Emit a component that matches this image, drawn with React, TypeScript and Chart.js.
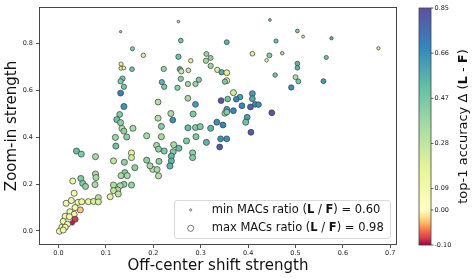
import React, { useEffect, useRef } from "react";
import { Chart, registerables } from "chart.js";
Chart.register(...registerables);

// Off-center shift strength (x)
const SHIFT = [
  0.131, 0.253, 0.446, 0.504, 0.516, 0.576, 0.675, 0.156, 0.179, 0.258,
  0.355, 0.459, 0.253, 0.312, 0.321, 0.311, 0.279, 0.409, 0.472, 0.445,
  0.439, 0.565, 0.132, 0.132, 0.138, 0.155, 0.222, 0.256, 0.259, 0.274,
  0.321, 0.335, 0.344, 0.355, 0.504, 0.504, 0.457, 0.500, 0.506, 0.559,
  0.135, 0.131, 0.138, 0.218, 0.223, 0.258, 0.251, 0.273, 0.296, 0.289,
  0.355, 0.351, 0.131, 0.491, 0.369, 0.409, 0.409, 0.383, 0.357, 0.375,
  0.343, 0.273, 0.210, 0.138, 0.289, 0.415, 0.422, 0.387, 0.405, 0.355,
  0.369, 0.351, 0.355, 0.450, 0.237, 0.284, 0.129, 0.123, 0.131, 0.210,
  0.241, 0.398, 0.395, 0.334, 0.347, 0.217, 0.157, 0.134, 0.138, 0.273,
  0.289, 0.299, 0.321, 0.406, 0.144, 0.120, 0.186, 0.217, 0.290, 0.342,
  0.355, 0.270, 0.312, 0.340, 0.121, 0.154, 0.154, 0.207, 0.211, 0.223,
  0.243, 0.242, 0.254, 0.283, 0.283, 0.238, 0.238, 0.235, 0.212, 0.199,
  0.208, 0.211, 0.193, 0.186, 0.161, 0.038, 0.048, 0.078, 0.116, 0.139,
  0.140, 0.132, 0.145, 0.078, 0.079, 0.047, 0.051, 0.057, 0.077, 0.030,
  0.033, 0.016, 0.027, 0.041, 0.049, 0.063, 0.074, 0.084, 0.084, 0.116,
  0.138, 0.130, 0.154, 0.125, 0.116, 0.109, 0.126, 0.046, 0.035, 0.024,
  0.033, 0.014, 0.023, 0.035, 0.029, 0.010, 0.019, 0.007, 0.014, 0.002,
  0.010,
];

// Zoom-in strength (y)
const ZOOM = [
  0.850, 0.893, 0.900, 0.853, 0.829, 0.822, 0.779, 0.777, 0.749, 0.812,
  0.805, 0.810, 0.743, 0.755, 0.738, 0.726, 0.726, 0.756, 0.758, 0.749,
  0.728, 0.740, 0.712, 0.694, 0.695, 0.690, 0.691, 0.690, 0.681, 0.685,
  0.704, 0.687, 0.677, 0.675, 0.714, 0.696, 0.665, 0.656, 0.638, 0.639,
  0.650, 0.638, 0.615, 0.635, 0.615, 0.649, 0.611, 0.627, 0.645, 0.627,
  0.641, 0.637, 0.588, 0.612, 0.590, 0.586, 0.564, 0.571, 0.563, 0.562,
  0.556, 0.566, 0.550, 0.531, 0.540, 0.540, 0.539, 0.534, 0.529, 0.519,
  0.513, 0.502, 0.507, 0.504, 0.501, 0.499, 0.497, 0.475, 0.462, 0.481,
  0.473, 0.485, 0.464, 0.464, 0.452, 0.446, 0.438, 0.437, 0.426, 0.440,
  0.441, 0.445, 0.438, 0.421, 0.401, 0.399, 0.406, 0.402, 0.402, 0.393,
  0.393, 0.384, 0.378, 0.358, 0.362, 0.333, 0.313, 0.365, 0.349, 0.341,
  0.368, 0.338, 0.353, 0.333, 0.313, 0.319, 0.299, 0.277, 0.297, 0.263,
  0.262, 0.235, 0.278, 0.302, 0.270, 0.341, 0.328, 0.317, 0.299, 0.293,
  0.249, 0.236, 0.236, 0.243, 0.228, 0.224, 0.203, 0.190, 0.198, 0.213,
  0.161, 0.118, 0.130, 0.122, 0.125, 0.125, 0.126, 0.142, 0.124, 0.196,
  0.199, 0.193, 0.196, 0.175, 0.172, 0.146, 0.158, 0.090, 0.100, 0.082,
  0.071, 0.063, 0.061, 0.050, 0.035, 0.041, 0.029, 0.016, 0.016, -0.001,
  0.004,
];

// top-1 accuracy delta (L - F), drives colour
const DELTA = [
  0.40, 0.35, 0.42, 0.45, 0.22, 0.55, 0.22, 0.45, 0.20, 0.48,
  0.55, 0.50, 0.50, 0.38, 0.40, 0.35, 0.20, 0.20, 0.32, 0.45,
  0.15, 0.48, 0.15, 0.20, 0.15, 0.48, 0.38, 0.55, 0.25, 0.25,
  0.38, 0.20, 0.57, 0.18, 0.55, 0.55, 0.48, 0.32, 0.50, 0.62,
  0.48, 0.45, 0.48, 0.55, 0.45, 0.42, 0.42, 0.35, 0.45, 0.38,
  0.18, 0.45, 0.70, 0.66, 0.25, 0.62, 0.58, 0.60, 0.50, 0.68,
  0.82, 0.35, 0.32, 0.64, 0.62, 0.66, 0.66, 0.68, 0.78, 0.60,
  0.68, 0.38, 0.45, 0.82, 0.35, 0.45, 0.45, 0.50, 0.42, 0.32,
  0.65, 0.60, 0.50, 0.66, 0.68, 0.45, 0.35, 0.28, 0.42, 0.52,
  0.45, 0.45, 0.55, 0.82, 0.42, 0.38, 0.35, 0.35, 0.45, 0.66,
  0.66, 0.45, 0.55, 0.82, 0.50, 0.18, 0.25, 0.35, 0.42, 0.45,
  0.35, 0.45, 0.52, 0.42, 0.45, 0.52, 0.55, 0.55, 0.42, 0.32,
  0.35, 0.30, 0.35, 0.42, 0.42, 0.52, 0.45, 0.35, 0.28, 0.42,
  0.42, 0.35, 0.35, 0.32, 0.35, 0.45, 0.45, 0.42, 0.35, 0.10,
  0.08, 0.08, 0.10, 0.10, 0.12, 0.15, 0.20, 0.30, 0.22, 0.32,
  0.42, 0.35, 0.40, 0.32, 0.28, 0.18, 0.30, -0.03, 0.08, 0.10,
  0.08, 0.10, 0.08, -0.08, -0.09, 0.10, 0.08, 0.10, 0.08, 0.08,
  0.10,
];

// MACs ratio (L / F), drives marker size
const MACS = [
  0.60, 0.62, 0.63, 0.72, 0.65, 0.68, 0.68, 0.75, 0.78, 0.80,
  0.82, 0.75, 0.85, 0.82, 0.82, 0.85, 0.78, 0.80, 0.70, 0.82,
  0.70, 0.75, 0.75, 0.75, 0.72, 0.80, 0.85, 0.85, 0.85, 0.80,
  0.85, 0.85, 0.85, 0.90, 0.80, 0.80, 0.78, 0.82, 0.82, 0.82,
  0.85, 0.85, 0.85, 0.85, 0.85, 0.85, 0.85, 0.85, 0.85, 0.85,
  0.90, 0.85, 0.90, 0.85, 0.92, 0.90, 0.90, 0.88, 0.88, 0.88,
  0.90, 0.90, 0.90, 0.92, 0.90, 0.88, 0.88, 0.90, 0.90, 0.90,
  0.90, 0.90, 0.90, 0.90, 0.92, 0.92, 0.90, 0.92, 0.92, 0.92,
  0.90, 0.90, 0.92, 0.90, 0.90, 0.92, 0.92, 0.92, 0.92, 0.92,
  0.92, 0.92, 0.92, 0.90, 0.92, 0.92, 0.92, 0.92, 0.92, 0.90,
  0.90, 0.92, 0.92, 0.90, 0.92, 0.92, 0.92, 0.92, 0.92, 0.92,
  0.92, 0.92, 0.92, 0.92, 0.92, 0.92, 0.92, 0.92, 0.92, 0.92,
  0.92, 0.92, 0.92, 0.92, 0.92, 0.92, 0.92, 0.92, 0.92, 0.92,
  0.92, 0.92, 0.92, 0.92, 0.92, 0.92, 0.92, 0.92, 0.92, 0.92,
  0.92, 0.92, 0.92, 0.92, 0.92, 0.92, 0.92, 0.92, 0.92, 0.92,
  0.92, 0.92, 0.92, 0.92, 0.92, 0.92, 0.92, 0.92, 0.92, 0.92,
  0.92, 0.92, 0.92, 0.92, 0.80, 0.92, 0.92, 0.92, 0.92, 0.92,
  0.92,
];

const X_TICKS = [0.0, 0.1, 0.2, 0.3, 0.4, 0.5, 0.6, 0.7];
const Y_TICKS = [0.0, 0.2, 0.4, 0.6, 0.8];
const CBAR_TICKS = [0.85, 0.66, 0.47, 0.28, 0.09, 0.0, -0.1];
const CBAR_MIN = -0.1;
const CBAR_CENTER = 0.0;
const CBAR_MAX = 0.85;
const LEGEND_MACS = [0.6, 0.98];
const LEGEND_LABELS = ["min", "max"];

const SPECTRAL = [
  "#9e0142", "#d53e4f", "#f46d43", "#fdae61", "#fee08b", "#ffffbf",
  "#e6f598", "#abdda4", "#66c2a5", "#3288bd", "#5e4fa2",
];

const FONT = "DejaVu Sans";

function hexToRgb(h: string) {
  return [parseInt(h.slice(1, 3), 16), parseInt(h.slice(3, 5), 16), parseInt(h.slice(5, 7), 16)];
}
const SPEC_RGB = SPECTRAL.map(hexToRgb);

function spectral(s: number) {
  const t = Math.max(0, Math.min(1, s)) * (SPEC_RGB.length - 1);
  const i = Math.min(SPEC_RGB.length - 2, Math.floor(t));
  const f = t - i;
  const a = SPEC_RGB[i], b = SPEC_RGB[i + 1];
  const c = a.map((v, k) => Math.round(v + (b[k] - v) * f));
  return `rgb(${c[0]},${c[1]},${c[2]})`;
}
function norm(v: number) {
  if (v < CBAR_CENTER) return 0.5 * (v - CBAR_MIN) / (CBAR_CENTER - CBAR_MIN);
  return 0.5 + 0.5 * (v - CBAR_CENTER) / (CBAR_MAX - CBAR_CENTER);
}
function colorOf(v: number) {
  return spectral(norm(v));
}
function radiusOf(m: number) {
  return 1.2 + ((m - 0.6) / 0.38) * 2.2;
}

function drawMixed(ctx: CanvasRenderingContext2D, parts: [string, boolean][], x: number, y: number, size: number, align: "left" | "center") {
  const widths = parts.map(([t, b]) => {
    ctx.font = `${b ? "bold " : ""}${size}px "${FONT}"`;
    return ctx.measureText(t).width;
  });
  const total = widths.reduce((a, b) => a + b, 0);
  let cx = align === "center" ? x - total / 2 : x;
  parts.forEach(([t, b], i) => {
    ctx.font = `${b ? "bold " : ""}${size}px "${FONT}"`;
    ctx.fillText(t, cx, y);
    cx += widths[i];
  });
}

const overlayPlugin = {
  id: "overlay",
  afterDraw(chart: any) {
    const ctx: CanvasRenderingContext2D = chart.ctx;
    const ca = chart.chartArea;
    ctx.save();
    // frame
    ctx.strokeStyle = "#333";
    ctx.lineWidth = 0.9;
    ctx.strokeRect(ca.left, ca.top, ca.right - ca.left, ca.bottom - ca.top);

    // legend
    const lx = 174.5, ly = 200.5, lw = 216, lh = 38;
    ctx.beginPath();
    ctx.roundRect(lx, ly, lw, lh, 2.5);
    ctx.fillStyle = "rgba(255,255,255,0.8)";
    ctx.fill();
    ctx.strokeStyle = "#d0d0d0";
    ctx.lineWidth = 0.8;
    ctx.stroke();
    LEGEND_MACS.forEach((m, i) => {
      const y = 210 + i * 18.3;
      ctx.beginPath();
      ctx.arc(190.7, y, radiusOf(m) * 0.9, 0, Math.PI * 2);
      ctx.fillStyle = "#fff";
      ctx.fill();
      ctx.strokeStyle = "#555";
      ctx.lineWidth = 0.8;
      ctx.stroke();
      ctx.fillStyle = "#111";
      ctx.textBaseline = "middle";
      ctx.textAlign = "left";
      drawMixed(ctx, [
        [`${LEGEND_LABELS[i]} MACs ratio (`, false],
        ["L", true],
        [" / ", false],
        ["F", true],
        [`) = ${m.toFixed(2)}`, false],
      ], 211.7, y, 11.5, "left");
    });

    // colorbar
    const cbL = 419, cbR = 431, cbT = ca.top + 0.5, cbB = ca.bottom + 0.5;
    const zeroY = cbB - (cbB - cbT) * 0.1477;
    const vToY = (v: number) =>
      v >= CBAR_CENTER
        ? zeroY - ((v - CBAR_CENTER) / (CBAR_MAX - CBAR_CENTER)) * (zeroY - cbT)
        : zeroY + ((CBAR_CENTER - v) / (CBAR_CENTER - CBAR_MIN)) * (cbB - zeroY);
    for (let y = Math.floor(cbT); y < cbB; y++) {
      const yc = y + 0.5;
      const v = yc <= zeroY
        ? CBAR_CENTER + ((zeroY - yc) / (zeroY - cbT)) * (CBAR_MAX - CBAR_CENTER)
        : CBAR_CENTER - ((yc - zeroY) / (cbB - zeroY)) * (CBAR_CENTER - CBAR_MIN);
      ctx.fillStyle = colorOf(v);
      const top = Math.max(y, cbT);
      const bot = Math.min(y + 1, cbB);
      ctx.fillRect(cbL, top, cbR - cbL, bot - top + 0.05);
    }
    ctx.strokeStyle = "#444";
    ctx.lineWidth = 0.8;
    ctx.strokeRect(cbL, cbT, cbR - cbL, cbB - cbT);
    ctx.fillStyle = "#222";
    ctx.font = `6.5px "${FONT}"`;
    ctx.textAlign = "left";
    ctx.textBaseline = "middle";
    CBAR_TICKS.forEach((v) => {
      const y = vToY(v);
      ctx.beginPath();
      ctx.moveTo(cbR, y);
      ctx.lineTo(cbR + 2.5, y);
      ctx.strokeStyle = "#222";
      ctx.lineWidth = 0.7;
      ctx.stroke();
      ctx.fillText(v.toFixed(2), cbR + 3.5, y);
    });
    // colorbar title
    ctx.translate(464, (cbT + cbB) / 2);
    ctx.rotate(-Math.PI / 2);
    ctx.fillStyle = "#111";
    ctx.textBaseline = "middle";
    drawMixed(ctx, [
      ["top-1 accuracy Δ (", false],
      ["L", true],
      [" - ", false],
      ["F", true],
      [")", false],
    ], 0, 0, 13, "center");
    ctx.restore();
  },
};

export default function App() {
  const ref = useRef<HTMLCanvasElement>(null);
  useEffect(() => {
    document.body.style.margin = "0";
    const canvas = ref.current!;
    const points = SHIFT.map((x, i) => ({ x, y: ZOOM[i] }));
    const chart = new Chart(canvas, {
      type: "scatter",
      data: {
        datasets: [
          {
            data: points,
            pointBackgroundColor: DELTA.map(colorOf),
            pointBorderColor: "rgba(60,60,60,0.9)",
            pointBorderWidth: 0.8,
            pointRadius: MACS.map(radiusOf),
          },
        ],
      },
      options: {
        responsive: false,
        animation: false,
        layout: { padding: { left: 0, right: 79.5, top: 7.5, bottom: 0 } },
        plugins: { legend: { display: false }, tooltip: { enabled: false } },
        scales: {
          x: {
            type: "linear",
            min: -0.0401,
            max: 0.7131,
            afterFit: (s: any) => { s.height = 35.5; },
            afterBuildTicks: (s: any) => { s.ticks = X_TICKS.map((v) => ({ value: v })); },
            border: { display: false },
            grid: { drawOnChartArea: false, drawTicks: true, tickLength: 3.5, color: "#222", lineWidth: 0.8 },
            ticks: {
              padding: 1,
              color: "#222",
              font: { family: FONT, size: 6.5 },
              callback: (v: any) => Number(v).toFixed(1),
            },
            title: {
              display: true,
              text: "Off-center shift strength",
              color: "#111",
              font: { family: FONT, size: 15 },
              padding: { top: 0, bottom: 4.5 },
            },
          },
          y: {
            type: "linear",
            min: -0.0576,
            max: 0.9531,
            afterFit: (s: any) => { s.width = 39.5; },
            afterBuildTicks: (s: any) => { s.ticks = Y_TICKS.map((v) => ({ value: v })); },
            border: { display: false },
            grid: { drawOnChartArea: false, drawTicks: true, tickLength: 3.5, color: "#222", lineWidth: 0.8 },
            ticks: {
              padding: 3,
              color: "#222",
              font: { family: FONT, size: 6.5 },
              callback: (v: any) => Number(v).toFixed(1),
            },
            title: {
              display: true,
              text: "Zoom-in strength",
              color: "#111",
              font: { family: FONT, size: 15 },
              padding: { top: 3.4, bottom: 0 },
            },
          },
        },
      },
      plugins: [overlayPlugin],
    });
    return () => chart.destroy();
  }, []);
  return (
    <div style={{ position: "fixed", left: 0, top: 0, width: 476, height: 280, background: "#fff" }}>
      <canvas ref={ref} width={476} height={280} style={{ width: 476, height: 280, display: "block" }} />
    </div>
  );
}
